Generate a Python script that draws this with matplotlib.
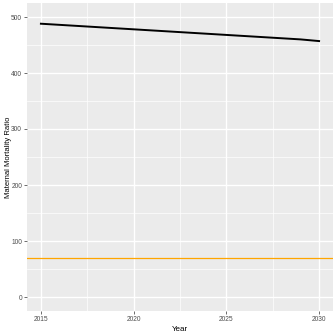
import matplotlib
matplotlib.use("Agg")
import matplotlib.pyplot as plt

plt.rcParams["font.family"] = ["Liberation Sans", "DejaVu Sans"]

# Projected maternal mortality ratio, 2015-2030
years = [2015, 2016, 2017, 2018, 2019, 2020, 2021, 2022,
         2023, 2024, 2025, 2026, 2027, 2028, 2029, 2030]
mmr = [488, 486, 484, 482, 480, 478, 476, 474,
       472, 470, 468, 466, 464, 462, 460, 457]
target = 70

x_ticks = [2015, 2020, 2025, 2030]
y_ticks = [0, 100, 200, 300, 400, 500]

fig = plt.figure(figsize=(3.36, 3.36), dpi=100)
ax = fig.add_axes([27 / 336, 25 / 336, 306 / 336, 308 / 336])
ax.set_facecolor("#EBEBEB")

ax.axhline(target, color="#FFA500", linewidth=0.9, zorder=2)
ax.plot(years, mmr, color="black", linewidth=1.4, zorder=3)

ax.set_xlim(2014.25, 2030.75)
ax.set_ylim(-25, 525)
ax.set_xticks(x_ticks)
ax.set_yticks(y_ticks)
ax.set_xticks([2017.5, 2022.5, 2027.5], minor=True)
ax.set_yticks([50, 150, 250, 350, 450], minor=True)
ax.grid(True, which="major", color="white", linewidth=1.0)
ax.grid(True, which="minor", color="white", linewidth=0.5)
ax.set_axisbelow(True)

for s in ax.spines.values():
    s.set_visible(False)
ax.tick_params(which="major", length=2, width=0.5, color="#333333",
               labelsize=4.8, labelcolor="#4D4D4D", pad=1.5)
ax.tick_params(which="minor", length=0)

ax.set_xlabel("Year", fontsize=5.8, labelpad=2.5)
ax.set_ylabel("Maternal Mortality Ratio", fontsize=5.5)
ax.yaxis.set_label_coords(-0.048, 0.5)

fig.savefig("out.png", dpi=100)
